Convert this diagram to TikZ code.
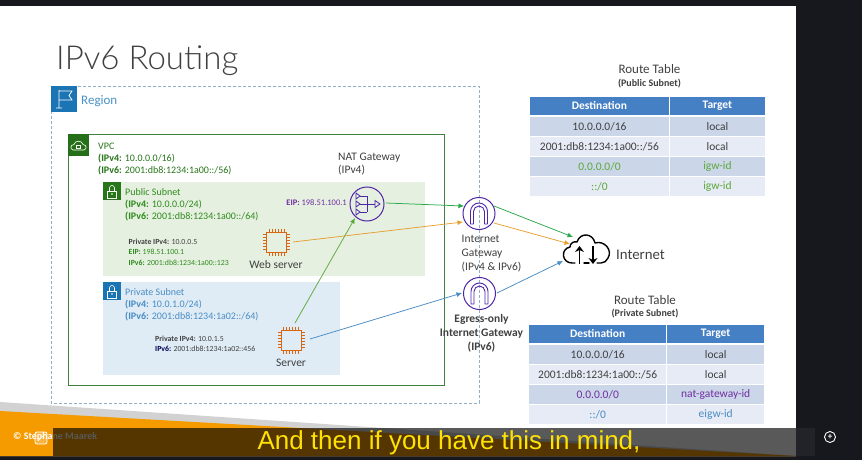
\documentclass[tikz,border=0pt]{standalone}
\usepackage{fontspec}
\setmainfont{Carlito}
\newfontfamily\titlefont{Lato Light}
\newfontfamily\capfont{Liberation Sans}
\usetikzlibrary{arrows.meta}
\definecolor{cdark}{HTML}{16181D}
\definecolor{cvpc}{HTML}{3F8040}
\definecolor{cgreen}{HTML}{2E8B1E}
\definecolor{cpubbg}{HTML}{E6F0E0}
\definecolor{cpribg}{HTML}{DFECF5}
\definecolor{cblue}{HTML}{4A8CC4}
\definecolor{cregion}{HTML}{1B75B5}
\definecolor{cregline}{HTML}{8FB0C8}
\definecolor{cpurple}{HTML}{4D27A8}
\definecolor{cpurpt}{HTML}{7030A0}
\definecolor{corange}{HTML}{D86613}
\definecolor{carrorange}{HTML}{E8A030}
\definecolor{carrgreen}{HTML}{2BA84A}
\definecolor{cgray}{HTML}{404040}
\definecolor{chead}{HTML}{4680C4}
\definecolor{crowa}{HTML}{CBD6E9}
\definecolor{crowb}{HTML}{E6EBF5}
\definecolor{ctgreen}{HTML}{5CA83A}
\definecolor{cfoot}{HTML}{F59B00}
\definecolor{cwedge}{HTML}{D2D2D2}
\tikzset{
 lbl/.style={font=\fontsize{10}{12}\selectfont, align=left, anchor=north west, inner sep=0pt},
 sublbl/.style={font=\fontsize{7.8}{10.3}\selectfont, align=left, anchor=north west, inner sep=0pt, text=cgray},
 iconlbl/.style={font=\fontsize{11.5}{13.8}\selectfont, text=cgray, inner sep=0pt, align=center},
 link/.style={line width=0.75pt, -{Latex[length=5.5pt,width=5pt]}},
 headcell/.style={fill=chead, text=white, font=\fontsize{11.5}{12}\selectfont\bfseries, inner sep=0pt},
 rowcell/.style={font=\fontsize{11.5}{12}\selectfont, text=cgray, inner sep=0pt},
 rta/.style={rowcell, fill=crowa},
 rtb/.style={rowcell, fill=crowb},
 tabtitle/.style={font=\fontsize{13}{14}\selectfont, text=cgray, inner sep=0pt},
 tabsub/.style={font=\fontsize{10}{12}\selectfont\bfseries, text=cgray, inner sep=0pt},
 gwring/.style={circle, draw=cpurple, line width=1pt, minimum size=32pt, inner sep=0pt},
}
\newcommand{\cellbox}[7]{% name, style, x, y, w, h, text
 \node[#2, minimum width=#5pt, minimum height=#6pt, anchor=north west] (#1) at (#3,#4) {#7};}
\newcommand{\chipicon}[2]{% cx cy
 \begin{scope}[shift={(#1,#2)}]
 \draw[corange, line width=1pt] (-10,-10) rectangle (10,10);
 \foreach \t in {-7.5,-4.5,-1.5,1.5,4.5,7.5} {
  \draw[corange, line width=0.7pt] (\t,-13.5) -- (\t,-10) (\t,10) -- (\t,13.5) (-13.5,\t) -- (-10,\t) (10,\t) -- (13.5,\t);
 }
 \end{scope}}
\newcommand{\igwicon}[1]{% arch inside a gateway ring
 \draw[cpurple, line width=0.9pt, line join=round] ([shift={(-8.5,10.5)}]#1.center) -- ++(0,-12.5) arc[start angle=180,end angle=360,radius=8.5] -- ++(0,12.5) -- ++(-3,0) -- ++(0,-12.5) arc[start angle=360,end angle=180,radius=5.5] -- ++(0,12.5) -- cycle;}
\newcommand{\lockicon}[2]{% left top of the white lock
 \begin{scope}[shift={(#1,#2)}]
 \draw[white, line width=0.6pt] (4.5,9) rectangle (13.5,16);
 \draw[white, line width=0.6pt] (6.5,9) -- (6.5,6) arc[start angle=180,end angle=360,radius=2.5] -- (11.5,9);
 \fill[white] (9,12) circle[radius=0.8];
 \end{scope}}
\begin{document}
\begin{tikzpicture}[x=1pt,y=-1pt]
\useasboundingbox (0,0) rectangle (862,460);
% backgrounds
\fill[cdark] (0,0) rectangle (862,460);
\fill[white] (0,6) rectangle (796,428);
% footer
\fill[white] (0,428) rectangle (796,456);
\fill[cwedge] (0,402) -- (796,456) -- (0,456) -- cycle;
\fill[cfoot] (0,411) -- (796,456) -- (0,456) -- cycle;
\node[font=\fontsize{10}{12}\selectfont\bfseries, text=white, inner sep=0pt, anchor=west] (copy) at (13,437) {© Stephane Maarek};
\fill[black, opacity=0.65] (53,428) rectangle (796,456);
\fill[white, opacity=0.05] (796,428) rectangle (815,456);
\fill[white, opacity=0.25, rounded corners=2pt] (35,432) rectangle (47,444);
\draw[white, line width=0.8pt, rounded corners=2pt] (35,432) rectangle (47,444);
\draw[white, line width=0.7pt] (38,441) -- (44,435);
\node[font=\fontsize{26}{30}\selectfont, text=yellow!85!orange, inner sep=0pt] (caption) at (449,443) {\capfont And then if you have this in mind,};
\node[circle, draw=white, line width=0.9pt, minimum size=11pt, inner sep=0pt, font=\fontsize{9}{9}\selectfont\bfseries, text=white] (plus) at (830,437) {+};
% title
\node[font=\fontsize{33}{38}\selectfont, text=cgray, inner sep=0pt, anchor=west] (title) at (56,61) {\titlefont IPv6 Routing};
% region
\draw[cregline, densely dashed, line width=0.8pt] (51,86) rectangle (479,403);
\fill[cregion] (51,86) rectangle (77,112);
\draw[white, line width=0.8pt] (59,90) -- (59,108) (56,108) -- (62,108) (59,91) -- (72,91) -- (69,95.5) -- (72,100) -- (59,100);
\node[font=\fontsize{13}{14}\selectfont, text=cregion!80!white, inner sep=0pt, anchor=west] (region) at (81,101) {Region};
% vpc
\draw[cvpc, line width=0.9pt] (68,134) rectangle (444,385);
\fill[cgreen!80!black] (68,134) rectangle (89,156);
\draw[white, line width=0.6pt] (73,150) .. controls (70,149) and (70,145) .. (74,144.5) .. controls (75,140) and (82,140) .. (83,144.5) .. controls (87,145) and (87,149) .. (84,150) -- cycle;
\draw[white, line width=0.5pt] (76.5,145.5) rectangle (80.5,148.5);
\node[lbl, text=cgreen!85!black] (vpclbl) at (98,142.5) {VPC\\{\bfseries(IPv4:} 10.0.0.0/16)\\{\bfseries(IPv6:} 2001:db8:1234:1a00::/56)};
% public subnet
\fill[cpubbg] (103,182) rectangle (425,275.5);
\fill[cgreen!85!black] (103,182) rectangle (121,200);
\lockicon{103}{182}
\node[lbl, text=cgreen] (publbl) at (125,188.5) {Public Subnet\\{\bfseries(IPv4:} 10.0.0.0/24)\\{\bfseries(IPv6:} 2001:db8:1234:1a00::/64)};
\node[sublbl] (webpriv) at (128.5,239) {{\bfseries Private IPv4:} 10.0.0.5\\\textcolor{cgreen}{{\bfseries EIP:} 198.51.100.1}\\\textcolor{cgreen}{{\bfseries IPv6:} 2001:db8:1234:1a00::123}};
\node[font=\fontsize{8.5}{9}\selectfont, text=cpurpt, inner sep=0pt, anchor=east] (eip) at (347,203) {{\bfseries EIP:} 198.51.100.1};
% private subnet
\fill[cpribg] (103,282) rectangle (340,375);
\fill[cregion] (103,282) rectangle (121,300);
\lockicon{103}{282}
\node[lbl, text=cblue] (prilbl) at (125,288.5) {Private Subnet\\{\bfseries(IPv4:} 10.0.1.0/24)\\{\bfseries(IPv6:} 2001:db8:1234:1a02::/64)};
\node[sublbl] (srvpriv) at (155,336) {{\bfseries Private IPv4:} 10.0.1.5\\\textcolor{black!70!blue}{\bfseries IPv6:} 2001:db8:1234:1a02::456};
% instances
\chipicon{276.5}{242}
\node[iconlbl] (weblbl) at (276,265) {Web server};
\chipicon{291}{340}
\node[iconlbl] (srvlbl) at (291,362.5) {Server};
% NAT
\node[gwring, minimum size=34pt] (nat) at (367,204) {};
\foreach \yy in {-8,0,8} {
 \draw[cpurple, line width=0.8pt] ([shift={(-11,\yy-3)}]nat.center) -- ++(4,3) -- ++(-4,3) -- cycle;
 \draw[cpurple, line width=0.8pt] ([shift={(-7,\yy)}]nat.center) -- ([shift={(0,\yy)}]nat.center);
}
\draw[cpurple, line width=0.8pt] ([shift={(0,-8)}]nat.center) -- ([shift={(0,8)}]nat.center) (nat.center) -- ([shift={(8,0)}]nat.center);
\draw[cpurple, line width=0.8pt] ([shift={(8,-3.5)}]nat.center) -- ([shift={(13,0)}]nat.center) -- ([shift={(8,3.5)}]nat.center) -- cycle;
\node[iconlbl, align=left, anchor=north west] (natlbl) at (338,152.5) {NAT Gateway\\(IPv4)};
% IGW
\node[gwring] (igw) at (479,213.5) {};
\igwicon{igw}
\node[iconlbl, align=left, anchor=north west] (igwlbl) at (461.5,235) {Internet\\Gateway\\(IPv4 \& IPv6)};
\node[gwring] (eigw) at (479.5,293.5) {};
\igwicon{eigw}
\node[iconlbl, font=\fontsize{11.5}{14}\selectfont\bfseries, anchor=north] (eigwlbl) at (481.5,314) {Egress-only\\Internet Gateway\\(IPv6)};
% internet
\draw[black, line width=1.4pt, line join=round, line cap=round] (575,263) -- (572,263) .. controls (562,263) and (560,249) .. (570,247) .. controls (570,243) and (574,241) .. (577,242) .. controls (580,232) and (593,233) .. (595,243) .. controls (604,240) and (613,250) .. (608,258) .. controls (607,261) and (604,263) .. (601,263) -- (597,263);
\draw[black, line width=1.4pt, line cap=round] (584,263) -- (589,263);
\draw[black, line width=1.4pt, -{Stealth[length=6pt,width=9pt]}] (579.5,264) -- (579.5,246);
\draw[black, line width=1.4pt, -{Stealth[length=6pt,width=9pt]}] (593,246) -- (593,264);
\node[font=\fontsize{14.8}{16}\selectfont, text=cgray, inner sep=0pt, anchor=west] (inetlbl) at (616,255) {Internet};
% connectors
\coordinate (natout) at (386,203);
\coordinate (igwin1) at (464,206);
\coordinate (webout) at (293,242);
\coordinate (igwin2) at (463,222);
\coordinate (igwout1) at (494,206);
\coordinate (igwout2) at (494,223);
\coordinate (cloud1) at (573,237);
\coordinate (cloud2) at (570,244);
\coordinate (srvout) at (310,339);
\coordinate (eigwin) at (462,293);
\coordinate (eigwout) at (497,293);
\coordinate (cloud3) at (563,261);
\coordinate (srvup) at (295,323);
\coordinate (natin) at (355,218);
\draw[link, carrgreen] (natout) -- (igwin1);
\draw[link, carrorange] (webout) -- (igwin2);
\draw[link, carrgreen] (igwout1) -- (cloud1);
\draw[link, carrorange] (igwout2) -- (cloud2);
\draw[link, ctgreen] (srvup) -- (natin);
\draw[link, cblue] (srvout) -- (eigwin);
\draw[link, cblue] (eigwout) -- (cloud3);
% tables
\node[tabtitle] (t1) at (649.5,69.5) {Route Table};
\node[tabsub] (t1s) at (649.5,83.5) {(Public Subnet)};
\cellbox{a0}{headcell}{529.5}{96.5}{139.5}{18.5}{Destination}
\cellbox{b0}{headcell}{670}{96.5}{94.5}{18.5}{Target}
\cellbox{a1}{rta}{529.5}{117}{139.5}{18.5}{10.0.0.0/16}
\cellbox{b1}{rta}{670}{117}{94.5}{18.5}{local}
\cellbox{a2}{rtb}{529.5}{137}{139.5}{18.5}{2001:db8:1234:1a00::/56}
\cellbox{b2}{rtb}{670}{137}{94.5}{18.5}{local}
\cellbox{a3}{rta}{529.5}{157}{139.5}{18.5}{\textcolor{ctgreen}{0.0.0.0/0}}
\cellbox{b3}{rta}{670}{157}{94.5}{18.5}{\textcolor{ctgreen}{igw-id}}
\cellbox{a4}{rtb}{529.5}{177}{139.5}{18.5}{\textcolor{ctgreen}{::/0}}
\cellbox{b4}{rtb}{670}{177}{94.5}{18.5}{\textcolor{ctgreen}{igw-id}}
\node[tabtitle] (t2) at (645,300) {Route Table};
\node[tabsub] (t2s) at (645,314) {(Private Subnet)};
\cellbox{c0}{headcell}{529}{324.5}{137}{18.5}{Destination}
\cellbox{d0}{headcell}{667}{324.5}{97}{18.5}{Target}
\cellbox{c1}{rta}{529}{345}{137}{18.5}{10.0.0.0/16}
\cellbox{d1}{rta}{667}{345}{97}{18.5}{local}
\cellbox{c2}{rtb}{529}{365}{137}{18.5}{2001:db8:1234:1a00::/56}
\cellbox{d2}{rtb}{667}{365}{97}{18.5}{local}
\cellbox{c3}{rta}{529}{385}{137}{18.5}{\textcolor{cpurpt}{0.0.0.0/0}}
\cellbox{d3}{rta}{667}{385}{97}{18.5}{\textcolor{cpurpt}{nat-gateway-id}}
\cellbox{c4}{rtb}{529}{405}{137}{18.5}{\textcolor{cblue}{::/0}}
\cellbox{d4}{rtb}{667}{405}{97}{18.5}{\textcolor{cblue}{eigw-id}}
\end{tikzpicture}
\end{document}
